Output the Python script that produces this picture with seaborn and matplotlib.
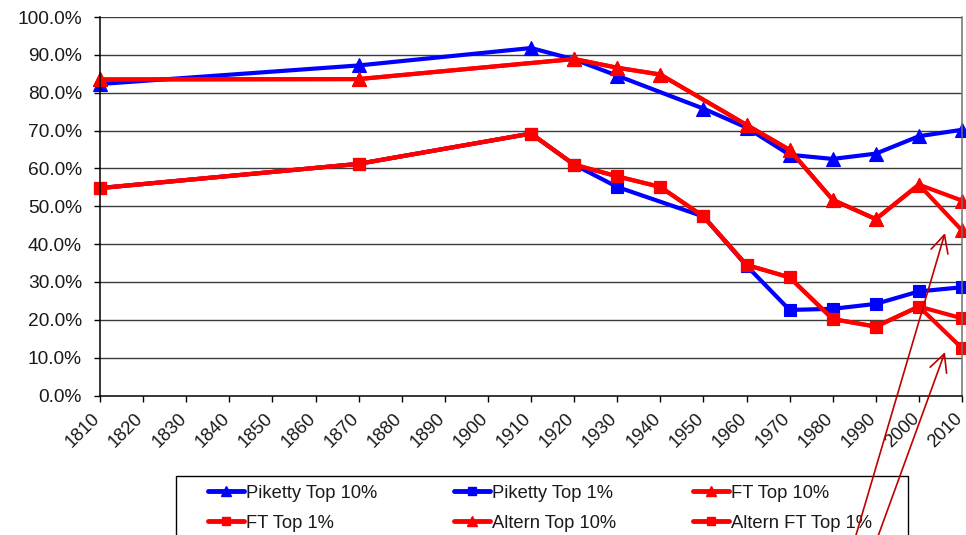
import matplotlib
matplotlib.use("Agg")
import matplotlib.pyplot as plt
import matplotlib.transforms as mtransforms
import seaborn as sns
import pandas as pd
from matplotlib.ticker import PercentFormatter, MultipleLocator
from matplotlib.lines import Line2D
from matplotlib.patches import FancyArrowPatch, Rectangle

# Top income shares by decade
piketty_top10_years = [1810, 1870, 1910, 1920, 1930, 1950, 1960, 1970, 1980, 1990, 2000, 2010]
piketty_top10 = [0.823, 0.872, 0.918, 0.888, 0.845, 0.758, 0.708, 0.636, 0.625, 0.639, 0.685, 0.702]

piketty_top1_years = [1810, 1870, 1910, 1920, 1930, 1950, 1960, 1970, 1980, 1990, 2000, 2010]
piketty_top1 = [0.548, 0.612, 0.692, 0.610, 0.551, 0.473, 0.343, 0.226, 0.229, 0.242, 0.275, 0.286]

ft_top10_years = [1810, 1870, 1920, 1930, 1940, 1960, 1970, 1980, 1990, 2000, 2010]
ft_top10 = [0.835, 0.836, 0.889, 0.866, 0.848, 0.715, 0.649, 0.517, 0.466, 0.557, 0.515]

ft_top1_years = [1810, 1870, 1910, 1920, 1930, 1940, 1950, 1960, 1970, 1980, 1990, 2000, 2010]
ft_top1 = [0.548, 0.612, 0.692, 0.610, 0.579, 0.551, 0.473, 0.345, 0.312, 0.202, 0.182, 0.235, 0.204]

altern_top10_years = [1810, 1870, 1920, 1930, 1940, 1960, 1970, 1980, 1990, 2000, 2010]
altern_top10 = [0.835, 0.836, 0.889, 0.866, 0.848, 0.715, 0.649, 0.517, 0.466, 0.557, 0.436]

altern_ft_top1_years = [1810, 1870, 1910, 1920, 1930, 1940, 1950, 1960, 1970, 1980, 1990, 2000, 2010]
altern_ft_top1 = [0.548, 0.612, 0.692, 0.610, 0.579, 0.551, 0.473, 0.345, 0.312, 0.202, 0.182, 0.235, 0.125]

year_ticks = list(range(1810, 2011, 10))

BLUE = "#0000ff"
RED = "#ff0000"
series = [
    ("Piketty Top 10%", piketty_top10_years, piketty_top10, BLUE, "^"),
    ("Piketty Top 1%", piketty_top1_years, piketty_top1, BLUE, "s"),
    ("FT Top 10%", ft_top10_years, ft_top10, RED, "^"),
    ("FT Top 1%", ft_top1_years, ft_top1, RED, "s"),
    ("Altern Top 10%", altern_top10_years, altern_top10, RED, "^"),
    ("Altern FT Top 1%", altern_ft_top1_years, altern_ft_top1, RED, "s"),
]

sns.set_style("white")
plt.rcParams["font.family"] = ["Liberation Sans", "DejaVu Sans"]
TEXT = "#1a1a1a"

W, H = 966, 535
fig = plt.figure(figsize=(W / 100, H / 100), dpi=100)
ax = fig.add_axes([100 / W, (H - 395.5) / H, 862 / W, 378.5 / H])

for name, yrs, vals, col, mk in series:
    df = pd.DataFrame({"year": yrs, "share": vals})
    sns.lineplot(data=df, x="year", y="share", ax=ax, color=col, marker=mk,
                 markersize=10 if mk == "^" else 8.5, markeredgecolor=col,
                 markeredgewidth=0.8, linewidth=3, sort=False, legend=False,
                 clip_on=False)

ax.set_xlim(1810, 2010)
ax.set_ylim(0, 1.0)
ax.set_xlabel("")
ax.set_ylabel("")
ax.set_xticks(year_ticks)
ax.yaxis.set_major_locator(MultipleLocator(0.1))
ax.yaxis.set_major_formatter(PercentFormatter(xmax=1.0, decimals=1))

ax.grid(False)
for v in [i / 10 for i in range(1, 11)]:
    ax.axhline(v, color="#3c3c3c", linewidth=1.0, zorder=0.5)

for side in ["left", "bottom"]:
    ax.spines[side].set_color("black")
    ax.spines[side].set_linewidth(1.1)
ax.spines["top"].set_visible(False)
ax.spines["right"].set_color("#707070")
ax.spines["right"].set_linewidth(1.1)

ax.tick_params(axis="both", direction="out", length=4, width=1, color="black",
               labelcolor=TEXT, left=True, bottom=True)
ax.tick_params(axis="y", pad=9, labelsize=13.8)
ax.tick_params(axis="x", pad=11, labelsize=13.2)
shift_left = mtransforms.ScaledTranslation(-2.5 / 100, 0, fig.dpi_scale_trans)
for lab in ax.get_xticklabels():
    lab.set_rotation(45)
    lab.set_rotation_mode("anchor")
    lab.set_ha("right")
    lab.set_va("center")
    lab.set_transform(lab.get_transform() + shift_left)

# Legend box running off the bottom edge, entries in three columns
fig.add_artist(Rectangle((176 / W, -10 / H), (908 - 176) / W, (H + 10 - 476) / H,
                         transform=fig.transFigure, facecolor="white",
                         edgecolor="black", linewidth=1.0, zorder=2))
handles = [Line2D([0], [0], color=c, linewidth=3.5, marker=m,
                  markersize=7 if m == "^" else 6, markeredgecolor=c)
           for _, _, _, c, m in series]
labels = [s[0] for s in series]
order = [0, 3, 1, 4, 2, 5]
leg = fig.legend([handles[i] for i in order], [labels[i] for i in order],
                 loc="upper left",
                 bbox_to_anchor=(208 / W, 1 - 484.5 / H, (872 - 208) / W, 0.0),
                 bbox_transform=fig.transFigure, mode="expand", ncol=3,
                 frameon=False, handlelength=1.95, handletextpad=0.1,
                 borderpad=0, labelspacing=0.72, borderaxespad=0, fontsize=13.2)
leg.set_zorder(3)
for t in leg.get_texts():
    t.set_color(TEXT)

# Pointer arrows to the alternative 2010 values
ARROW = "#c00000"
for (x0, y0), (x1, y1) in [((851.6, 550), (945, 233)), ((873, 550), (945, 352))]:
    arr = FancyArrowPatch((x0 / 100, (H - y0) / 100), (x1 / 100, (H - y1) / 100),
                          transform=fig.dpi_scale_trans,
                          arrowstyle="->,head_length=0.9,head_width=0.45",
                          mutation_scale=14, color=ARROW, linewidth=1.2,
                          shrinkA=0, shrinkB=0, zorder=10)
    fig.add_artist(arr)

fig.savefig("out.png", dpi=100)
